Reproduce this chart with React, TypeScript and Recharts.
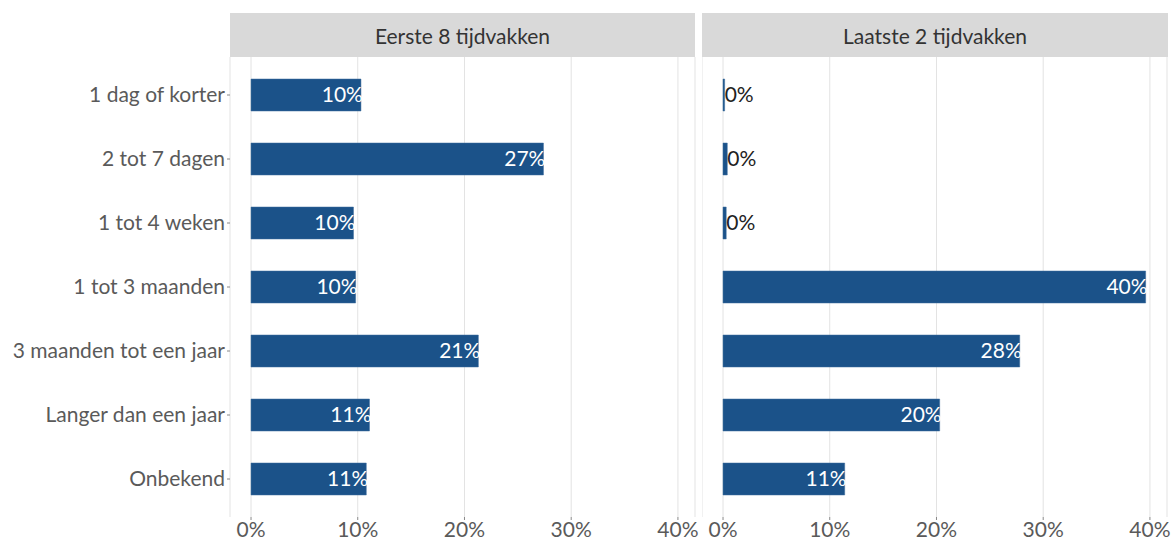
import React from "react";
import { BarChart, Bar, XAxis, YAxis, CartesianGrid, LabelList } from "recharts";

const categories = [
  "1 dag of korter",
  "2 tot 7 dagen",
  "1 tot 4 weken",
  "1 tot 3 maanden",
  "3 maanden tot een jaar",
  "Langer dan een jaar",
  "Onbekend",
];
const eerste8 = [10.3, 27.4, 9.6, 9.8, 21.3, 11.1, 10.8];
const laatste2 = [0.15, 0.4, 0.3, 39.6, 27.8, 20.3, 11.4];
const xTicks = [0, 10, 20, 30, 40];
const panelTitles = ["Eerste 8 tijdvakken", "Laatste 2 tijdvakken"];

const FONT = "Lato, 'DejaVu Sans', sans-serif";
const BAR = "#1b5289";
const GRID = "#e3e3e3";
const TEXT = "#5a5a5a";

const leftData = categories.map((c, i) => ({ cat: c, value: eerste8[i] }));
const rightData = categories.map((c, i) => ({ cat: c, value: laatste2[i] }));

const BarLabel = (props: any) => {
  const { x, y, width, height, value } = props;
  const txt = `${Math.round(value)}%`;
  const cy = y + height / 2;
  if (value < 1) {
    return (
      <text x={x + width} y={cy} dy="0.35em" textAnchor="start" fill="#222" fontSize={21} fontFamily={FONT}>
        {txt}
      </text>
    );
  }
  return (
    <text x={x + width + 2} y={cy} dy="0.35em" textAnchor="end" fill="#fff" fontSize={21} fontFamily={FONT}>
      {txt}
    </text>
  );
};

// panel plot area is 465px wide; extra right margin leaves room for the "40%" tick label
function Panel({ data, showY, rightPad }: { data: any[]; showY: boolean; rightPad: number }) {
  const yWidth = showY ? 230 : 0;
  return (
    <BarChart
      width={yWidth + 465 + rightPad}
      height={542}
      data={data}
      layout="vertical"
      margin={{ top: 57, right: rightPad, bottom: 0, left: 0 }}
      barSize={32}
    >
      <CartesianGrid horizontal={false} stroke={GRID} strokeWidth={1} />
      <XAxis
        type="number"
        domain={[-1.97, 41.6]}
        ticks={xTicks}
        allowDataOverflow
        tickFormatter={(v) => `${v}%`}
        axisLine={false}
        tickLine={{ stroke: "#888" }}
        tickSize={3}
        height={25}
        tick={{ fontSize: 21, fill: TEXT, fontFamily: FONT }}
        interval={0}
      />
      <YAxis
        type="category"
        dataKey="cat"
        hide={!showY}
        width={yWidth}
        padding={{ top: 6, bottom: 6 }}
        axisLine={false}
        tickLine={{ stroke: "#888" }}
        tickSize={3}
        tick={{ fontSize: 21, fill: TEXT, fontFamily: FONT }}
        interval={0}
      />
      <Bar dataKey="value" fill={BAR} stroke="#3d6c9c" strokeWidth={0.5} isAnimationActive={false}>
        <LabelList dataKey="value" content={BarLabel} />
      </Bar>
    </BarChart>
  );
}

export default function App() {
  const strip: React.CSSProperties = {
    position: "absolute",
    top: 13,
    height: 44,
    background: "#d9d9d9",
    color: "#333",
    fontFamily: FONT,
    fontSize: 21,
    display: "flex",
    alignItems: "center",
    justifyContent: "center",
  };
  return (
    <div style={{ position: "absolute", left: 0, top: 0, width: 1172, height: 542, background: "#fff" }}>
      <div style={{ position: "absolute", left: 0, top: 0 }}>
        <Panel data={leftData} showY={true} rightPad={24} />
      </div>
      <div style={{ position: "absolute", left: 702, top: 0 }}>
        <Panel data={rightData} showY={false} rightPad={4} />
      </div>
      <div style={{ ...strip, left: 230, width: 465 }}>{panelTitles[0]}</div>
      <div style={{ ...strip, left: 702, width: 466 }}>{panelTitles[1]}</div>
    </div>
  );
}
